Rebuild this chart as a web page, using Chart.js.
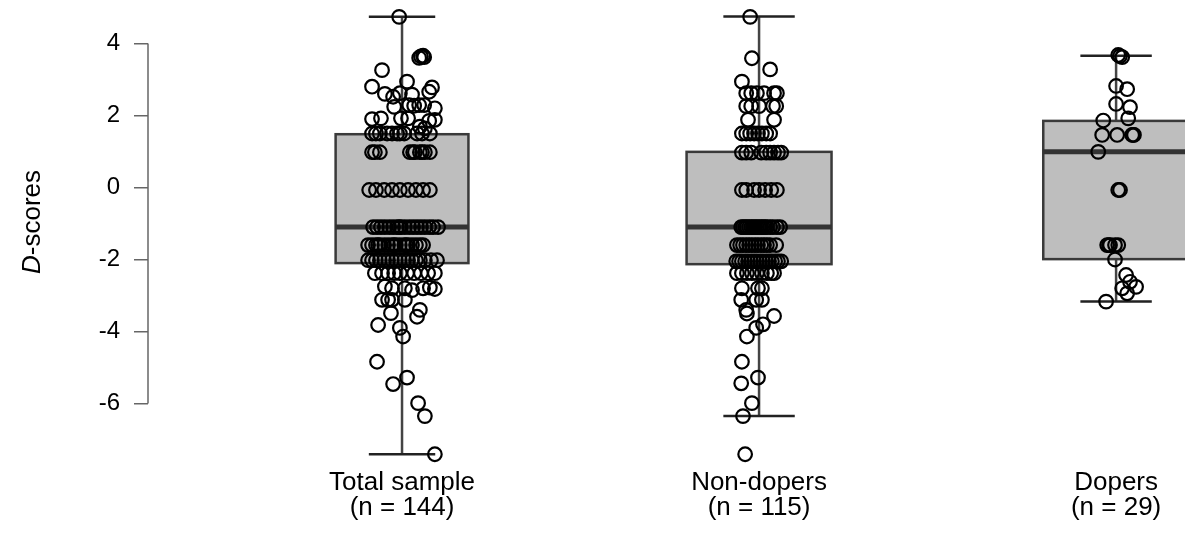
<!DOCTYPE html>
<html>
<head>
<meta charset="utf-8">
<script src="https://cdn.jsdelivr.net/npm/chart.js@4/dist/chart.umd.min.js"></script>
<style>
  html, body { margin: 0; padding: 0; background: #fff; }
  #wrap { width: 1185px; height: 546px; position: relative; }
</style>
</head>
<body>
<div id="wrap"><canvas id="chart"></canvas></div>
<script>
// groups along the x axis
const groupPos = [1, 2, 3];
const groupLabels = [
  ["Total sample", "(n = 144)"],
  ["Non-dopers", "(n = 115)"],
  ["Dopers", "(n = 29)"]
];

// box plot summaries
const whiskerLow  = [-7.41, -6.35, -3.17];
const lowerQuart  = [-2.10, -2.13, -1.99];
const medians     = [-1.10, -1.10, 0.99];
const upperQuart  = [1.48, 0.99, 1.85];
const whiskerHigh = [4.74, 4.75, 3.66];

const yTicks = [-6, -4, -2, 0, 2, 4];

// D-scores per participant, with horizontal jitter in % of the group spacing
const totalScores = [
  4.74,
  3.6, 3.62, 3.64, 3.66,
  3.26, 2.94, 2.8, 2.78, 2.66,
  2.6, 2.52, 2.62, 2.58,
  2.24, 2.29, 2.29, 2.29, 2.2, 2.27,
  1.9, 1.92, 1.92, 1.92, 1.88, 1.85,
  1.69, 1.64,
  1.5, 1.5, 1.5, 1.5, 1.5, 1.5, 1.5, 1.5, 1.5, 1.5, 1.5,
  0.98, 0.98, 0.98, 0.98, 0.98, 0.98, 0.98, 0.98, 0.98, 0.98,
  -0.07, -0.07, -0.07, -0.07, -0.07, -0.07, -0.07, -0.07, -0.07,
  -1.1, -1.1, -1.1, -1.1, -1.1, -1.1, -1.1, -1.1, -1.1, -1.1, -1.1, -1.1, -1.1, -1.1, -1.1, -1.1, -1.1, -1.1,
  -1.6, -1.6, -1.6, -1.6, -1.6, -1.6, -1.6, -1.6, -1.6, -1.6, -1.6, -1.6, -1.6, -1.6, -1.6, -1.6, -1.6, -1.6,
  -2.02, -2.02, -2.02, -2.02, -2.02, -2.02, -2.02, -2.02, -2.02, -2.02, -2.02, -2.02, -2.02, -2.02, -2.02, -2.02, -2.02,
  -2.38, -2.38, -2.38, -2.38, -2.38, -2.38, -2.38, -2.38, -2.38, -2.38,
  -2.75, -2.8, -2.8, -2.85, -2.8, -2.78, -2.82,
  -3.12, -3.12, -3.12, -3.12,
  -3.4, -3.59, -3.49, -3.82, -3.9, -4.14, -4.84, -5.28, -5.46, -5.99, -6.35, -7.41
];
const totalJitter = [
  -0.8,
  4.8, 6.2, 5.3, 5.9,
  -5.6, 1.4, -8.4, 8.4, 7.6,
  -4.8, -2.5, -0.6, 2.8,
  -2.2, 2.0, 4.8, 6.2, 9.2, 3.4,
  -8.4, -5.9, -0.3, 1.7, 9.2, 7.6,
  5.0, 6.4,
  -8.4, -6.2, -4.2, -2.8, -1.4, -0.6, 0.6, 4.2, 5.6, 7.8, -7.3,
  -8.4, -6.2, 2.2, 3.6, 5.0, 6.4, 7.8, -7.6, 3.1, 5.6,
  -9.2, -7.3, -5.0, -2.8, -0.6, 1.7, 3.9, 5.9, 7.8,
  -8.1, -7.0, -5.9, -4.8, -3.6, -2.5, -1.4, -0.3, 0.8, 2.0, 3.1, 4.2, 5.3, 6.4, 7.6, 8.7, 10.1, -0.8,
  -9.5, -8.4, -7.3, -6.2, -5.0, -3.9, -2.8, -1.7, -0.6, 0.6, 1.7, 2.8, 3.9, 5.0, 5.9, -6.7, -2.2, 1.1,
  -9.5, -8.4, -7.3, -6.2, -5.0, -3.9, -2.8, -1.7, -0.6, 0.6, 1.7, 2.8, 3.9, 5.0, 6.4, 8.1, 9.8,
  -7.6, -5.6, -3.9, -2.2, -0.6, 1.4, 3.4, 5.3, 7.3, 9.2,
  -4.8, -2.8, 0.8, 2.8, 5.9, 7.8, 9.2,
  -5.6, -3.9, -2.8, 0.8,
  5.0, 4.2, -3.1, -6.7, -0.6, 0.3, -7.0, 1.4, -2.5, 4.5, 6.4, 9.2
];

const nonDoperScores = [
  4.74, 3.59, 3.28, 2.94,
  2.62, 2.62, 2.62, 2.62, 2.62, 2.62,
  2.26, 2.26, 2.26, 2.26, 2.26,
  1.88, 1.88,
  1.5, 1.5, 1.5, 1.5, 1.5, 1.5, 1.5, 1.5,
  0.97, 0.97, 0.97, 0.97, 0.97, 0.97, 0.97, 0.97, 0.97,
  -0.07, -0.07, -0.07, -0.07, -0.07, -0.07, -0.07,
  -1.1, -1.1, -1.1, -1.1, -1.1, -1.1, -1.1, -1.1, -1.1, -1.1, -1.1, -1.1, -1.1, -1.1, -1.1, -1.1, -1.1, -1.1,
  -1.6, -1.6, -1.6, -1.6, -1.6, -1.6, -1.6, -1.6, -1.6, -1.6, -1.6, -1.6, -1.6,
  -2.05, -2.05, -2.05, -2.05, -2.05, -2.05, -2.05, -2.05, -2.05, -2.05, -2.05, -2.05, -2.05, -2.05, -2.05, -2.05,
  -2.38, -2.38, -2.38, -2.38, -2.38, -2.38, -2.38, -2.38, -2.38,
  -2.8, -2.8, -2.8,
  -3.12, -3.12, -3.12,
  -3.4, -3.5, -3.57, -3.8, -3.9, -4.14, -4.84, -5.28, -5.44, -5.99, -6.35, -7.41
];
const nonDoperJitter = [
  -2.5, -2.0, 3.1, -4.8,
  -3.6, -2.2, -0.6, 1.4, 4.2, 5.0,
  -3.6, -2.2, 0, 3.9, 4.8,
  -3.1, 4.2,
  -4.8, -3.6, -2.5, -1.4, -0.3, 0.8, 2.0, 3.1,
  -4.8, -3.6, -2.2, 0.6, 2.0, 3.1, 4.2, 5.3, 6.2,
  -4.8, -3.6, -1.4, 0, 1.7, 3.4, 5.0,
  -5.0, -4.5, -3.9, -3.4, -2.8, -2.2, -1.7, -1.1, -0.6, 0, 0.6, 1.1, 1.7, 2.2, 3.1, 3.9, 5.0, 5.9,
  -6.2, -5.3, -4.5, -3.6, -2.8, -2.0, -1.1, -0.3, 0.6, 1.4, 2.2, 3.1, 4.8,
  -6.4, -5.6, -4.8, -3.9, -3.1, -2.2, -1.4, -0.6, 0.3, 1.1, 2.0, 2.8, 3.6, 4.5, 5.3, 6.2,
  -6.2, -4.8, -3.4, -2.0, -0.6, 0.8, 2.2, 3.4, 4.2,
  -4.8, -0.3, 0.8,
  -5.0, -0.8, 0.8,
  -3.6, -3.4, 4.2, 1.1, -0.8, -3.4, -4.8, -0.3, -5.0, -2.0, -4.5, -3.9
];

const doperScores = [
  3.68, 3.62, 3.65, 2.82, 2.73, 2.32, 2.23, 1.92, 1.86,
  1.46, 1.46, 1.46, 1.46, 1.46,
  0.99, -0.07, -0.07,
  -1.6, -1.6, -1.6, -1.6, -1.6,
  -2.0, -2.43, -2.62, -2.76, -2.8, -2.94, -3.17
];
const doperJitter = [
  0.6, 1.7, 1.1, 0, 3.1, 0, 3.9, 3.4, -3.6,
  -3.9, 0.3, 4.5, 5.0, 4.8,
  -5.0, 0.6, 1.1,
  -2.5, -1.7, -0.3, 0.6, -2.0,
  -0.3, 2.8, 3.9, 5.6, 1.7, 3.1, -2.8
];

const groupScores = [totalScores, nonDoperScores, doperScores];
const groupJitter = [totalJitter, nonDoperJitter, doperJitter];

// look
const boxHalf = [0.186, 0.203, 0.204];
const capHalf = [0.093, 0.1, 0.1];
const fontFamily = "'Liberation Sans', Arial, Helvetica, sans-serif";

const boxPlugin = {
  id: "boxes",
  beforeDatasetsDraw(chart) {
    const { ctx, scales: { x, y }, chartArea } = chart;
    ctx.save();

    // y axis line only between the outer ticks
    ctx.strokeStyle = "#666";
    ctx.lineWidth = 1.5;
    ctx.beginPath();
    ctx.moveTo(chartArea.left, y.getPixelForValue(yTicks[yTicks.length - 1]));
    ctx.lineTo(chartArea.left, y.getPixelForValue(yTicks[0]));
    ctx.stroke();

    groupPos.forEach((g, i) => {
      const cx = x.getPixelForValue(g);
      const left = x.getPixelForValue(g - boxHalf[i]);
      const right = x.getPixelForValue(g + boxHalf[i]);
      const top = y.getPixelForValue(upperQuart[i]);
      const bottom = y.getPixelForValue(lowerQuart[i]);
      const hi = y.getPixelForValue(whiskerHigh[i]);
      const lo = y.getPixelForValue(whiskerLow[i]);

      // whisker stem
      ctx.strokeStyle = "#444";
      ctx.lineWidth = 2.5;
      ctx.beginPath();
      ctx.moveTo(cx, hi);
      ctx.lineTo(cx, lo);
      ctx.stroke();

      // caps
      ctx.strokeStyle = "#222";
      ctx.beginPath();
      ctx.moveTo(x.getPixelForValue(g - capHalf[i]), hi);
      ctx.lineTo(x.getPixelForValue(g + capHalf[i]), hi);
      ctx.moveTo(x.getPixelForValue(g - capHalf[i]), lo);
      ctx.lineTo(x.getPixelForValue(g + capHalf[i]), lo);
      ctx.stroke();

      // box
      ctx.fillStyle = "#bebebe";
      ctx.fillRect(left, top, right - left, bottom - top);
      ctx.strokeStyle = "#3a3a3a";
      ctx.lineWidth = 2.5;
      ctx.strokeRect(left, top, right - left, bottom - top);

      // median
      const m = y.getPixelForValue(medians[i]);
      ctx.strokeStyle = "#333";
      ctx.lineWidth = 5;
      ctx.beginPath();
      ctx.moveTo(left, m);
      ctx.lineTo(right, m);
      ctx.stroke();
    });
    ctx.restore();
  },
  afterDraw(chart) {
    // y title with italic D
    const { ctx } = chart;
    const size = 26;
    ctx.save();
    ctx.translate(33, 222);
    ctx.rotate(-Math.PI / 2);
    ctx.fillStyle = "#000";
    ctx.textBaseline = "middle";
    ctx.font = "italic " + size + "px " + fontFamily;
    const wD = ctx.measureText("D").width;
    ctx.font = size + "px " + fontFamily;
    const wRest = ctx.measureText("-scores").width;
    const start = -(wD + wRest) / 2;
    ctx.font = "italic " + size + "px " + fontFamily;
    ctx.fillText("D", start, 0);
    ctx.font = size + "px " + fontFamily;
    ctx.fillText("-scores", start + wD, 0);
    ctx.restore();
  }
};

const datasets = groupPos.map((g, i) => ({
  label: groupLabels[i].join(" "),
  data: groupScores[i].map((v, k) => ({ x: g + groupJitter[i][k] / 100, y: v })),
  pointRadius: 6.8,
  pointBorderWidth: 2.2,
  pointBorderColor: "#000",
  pointBackgroundColor: "rgba(0,0,0,0)",
  pointHoverRadius: 6.8,
  showLine: false,
  clip: false
}));

new Chart(document.getElementById("chart"), {
  type: "scatter",
  data: { datasets },
  options: {
    responsive: true,
    maintainAspectRatio: false,
    animation: false,
    events: [],
    layout: { padding: 0, autoPadding: false },
    plugins: { legend: { display: false }, tooltip: { enabled: false } },
    scales: {
      x: {
        type: "linear",
        min: 0.2885,
        max: 3.193,
        grid: { display: false, drawTicks: false },
        border: { display: false },
        ticks: {
          autoSkip: false,
          maxRotation: 0,
          padding: 8,
          color: "#000",
          font: { family: fontFamily, size: 26, lineHeight: 0.96 },
          callback: (value, index) => groupLabels[index]
        },
        afterBuildTicks: scale => { scale.ticks = groupPos.map(v => ({ value: v })); },
        afterFit: scale => { scale.height = 84; scale.paddingLeft = 0; scale.paddingRight = 0; }
      },
      y: {
        min: -7.625,
        max: 5.208,
        grid: { display: true, drawOnChartArea: false, drawTicks: true, tickLength: 14, color: "#666", lineWidth: 1.5 },
        border: { display: false },
        ticks: {
          padding: 14,
          color: "#000",
          font: { family: fontFamily, size: 24 },
          callback: v => String(v)
        },
        afterBuildTicks: scale => { scale.ticks = yTicks.map(v => ({ value: v })); },
        afterFit: scale => { scale.width = 148; scale.paddingTop = 0; scale.paddingBottom = 0; }
      }
    }
  },
  plugins: [boxPlugin]
});
</script>
</body>
</html>
